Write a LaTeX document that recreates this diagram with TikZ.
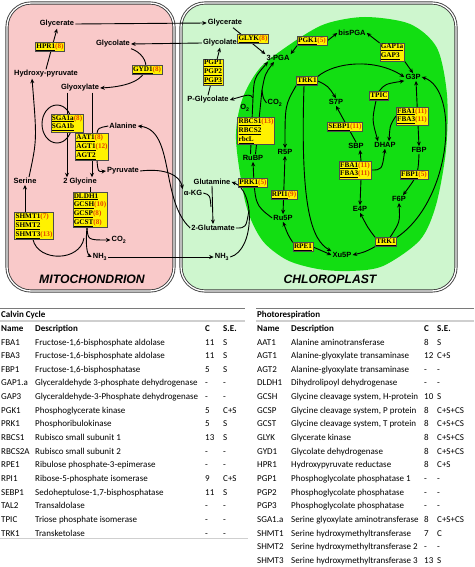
\documentclass[tikz,border=0pt]{standalone}
\usepackage{fontspec}
\setmainfont{Liberation Serif}
\setsansfont{Liberation Sans}
\newfontfamily\tabfont{Carlito}
\usetikzlibrary{arrows.meta,calc}
\pgfdeclarelayer{bg}
\pgfdeclarelayer{edges}
\pgfsetlayers{bg,edges,main}
\definecolor{mitopink}{RGB}{249,201,201}
\definecolor{plastid}{RGB}{206,246,206}
\definecolor{stroma}{RGB}{18,222,18}
\definecolor{nred}{RGB}{228,64,0}
\definecolor{rulegray}{RGB}{175,175,175}
\newcommand{\en}[1]{\underline{#1}}
\newcommand{\nr}[1]{\textcolor{nred}{(#1)}}
\tikzset{
  met/.style={font=\sffamily\bfseries\fontsize{7.5}{8}\selectfont, inner sep=1pt},
  enz/.style={draw=black!70, fill=yellow, font=\rmfamily\bfseries\fontsize{7.2}{8.8}\selectfont, inner sep=1pt, align=left},
  link/.style={line width=0.9pt},
  arr/.style={link, -{Stealth[length=4.5pt,width=4pt]}},
  arrs/.style={link, {Stealth[length=4.5pt,width=4pt]}-{Stealth[length=4.5pt,width=4pt]}},
  comp/.style={draw=black!75, line width=0.9pt, double=white, double distance=1.3pt, rounded corners=24pt},
  place/.style={font=\sffamily\bfseries\itshape\fontsize{12.2}{14}\selectfont},
  tab/.style={font=\tabfont\fontsize{9}{10}\selectfont, inner sep=0pt, anchor=base west},
  tabh/.style={tab, font=\tabfont\bfseries\fontsize{9}{10}\selectfont},
}
\begin{document}
\begin{tikzpicture}[x=1pt,y=-1pt]
\useasboundingbox (0,0) rectangle (474,567);
% compartments
\begin{pgfonlayer}{bg}
\draw[comp, fill=mitopink] (7,3) rectangle (174,291);
\draw[comp, fill=plastid] (181,3) rectangle (456,291);
\fill[stroma] plot[smooth cycle] coordinates {(236,140) (242,100) (260,68) (292,43) (325,24) (365,17) (410,24) (437,48) (447,95) (446,150) (436,205) (420,240) (383,266) (350,271) (318,269) (287,260) (262,240) (246,205)};
\end{pgfonlayer}
% mitochondrion
\node[met] (glyM) at (57,24) {Glycerate};
\node[enz] (hpr) at (50,47) {\en{HPR1}\nr{8}};
\node[met] (hpyr) at (46,74) {Hydroxy-pyruvate};
\node[met] (glcM) at (113,44) {Glycolate};
\node[enz] (gyd) at (147,70) {\en{GYD1}\nr{8}};
\node[met] (glx) at (80,88) {Glyoxylate};
\node[enz] (sga) at (67,123) {\en{SGA1a}\nr{8}\\\en{SGA1b}};
\node[enz] (aat) at (92,147) {\en{AAT1}\nr{8}\\\en{AGT1}\nr{12}\\\en{AGT2}};
\node[met] (ala) at (123,126) {Alanine};
\node[met] (pyr) at (123,171) {Pyruvate};
\node[met] (ser) at (25,181) {Serine};
\node[met] (gly2) at (80,182) {2 Glycine};
\node[enz] (gcs) at (90,210) {\en{DLDH1}\\\en{GCSH}\nr{10}\\\en{GCSP}\nr{8}\\\en{GCST}\nr{8}};
\node[enz] (shmt) at (34,226) {\en{SHMT1}\nr{7}\\\en{SHMT2}\\\en{SHMT3}\nr{13}};
\node[met] (co2M) at (119,240) {CO\textsubscript{2}};
\node[met] (nh3M) at (100,257) {NH\textsubscript{3}};
\node[place] (mitolab) at (92,279) {MITOCHONDRION};
% chloroplast
\node[met] (glyC) at (225,23) {Glycerate};
\node[enz] (glyk) at (253,39) {\en{GLYK}\nr{8}};
\node[met] (glcC) at (220,43) {Glycolate};
\node[enz] (pgp) at (213,72) {\en{PGP1}\\\en{PGP2}\\\en{PGP3}};
\node[met] (pglc) at (208,100) {P-Glycolate};
\node[met] (pga) at (278,58) {3-PGA};
\node[enz] (pgk) at (312,41) {\en{PGK1}\nr{5}};
\node[met] (bpga) at (352,33) {bisPGA};
\node[enz] (gap) at (392,52) {\en{GAP1a}\\\en{GAP3}};
\node[met] (g3p) at (413,77) {G3P};
\node[enz] (trkA) at (307,81) {\en{TRK1}};
\node[met] (s7p) at (336,102) {S7P};
\node[enz] (tpic) at (379,96) {\en{TPIC}};
\node[enz] (fbaA) at (412,116) {\en{FBA1}\nr{11}\\\en{FBA3}\nr{11}};
\node[enz] (sebp) at (345,127) {\en{SEBP1}\nr{11}};
\node[met] (sbp) at (356,146) {SBP};
\node[met] (dhap) at (385,145) {DHAP};
\node[met] (fbp) at (419,150) {FBP};
\node[enz] (fbaB) at (355,170) {\en{FBA1}\nr{11}\\\en{FBA3}\nr{11}};
\node[enz] (fbpase) at (414,175) {\en{FBP1}\nr{5}};
\node[met] (e4p) at (360,209) {E4P};
\node[met] (f6p) at (399,199) {F6P};
\node[enz] (trkB) at (386,242) {\en{TRK1}};
\node[met] (xu5p) at (342,255) {Xu5P};
\node[enz] (rpe) at (303,247) {\en{RPE1}};
\node[met] (ru5p) at (283,218) {Ru5P};
\node[enz] (rpi) at (284,195) {\en{RPI1}\nr{9}};
\node[met] (r5p) at (285,152) {R5P};
\node[enz] (prk) at (253,183) {\en{PRK1}\nr{5}};
\node[met] (rubp) at (253,158) {RuBP};
\node[enz] (rbcs) at (256,131) {\en{RBCS1}\nr{13}\\\en{RBCS2}\\\en{rbcL}};
\node[met] (o2) at (245,108) {O\textsubscript{2}};
\node[met] (co2C) at (275,103) {CO\textsubscript{2}};
\node[met] (gln) at (212,182) {Glutamine};
\node[met] (akg) at (193,193) {α-KG};
\node[met] (glu) at (213,228) {2-Glutamate};
\node[met] (nh3C) at (222,257) {NH\textsubscript{3}};
\node[place] (chlorolab) at (330,279) {CHLOROPLAST};
\coordinate (oxy) at (253,98);
\coordinate (carb) at (262,90);
\coordinate (j1) at (211,207);
\coordinate (j2) at (249,210);
\coordinate (gcsj) at (84,238);
% connectors
\begin{pgfonlayer}{edges}
\draw[arr] (glyM.east) -- (glyC.west);
\draw[arr] (glcC.west) -- (glcM.east);
\draw[arr] (hpyr.north) -- (glyM.south);
\draw[arr] (glcM.south east) .. controls (150,55) and (160,85) .. (glx.east);
\draw[arr] (glx.south -| sga) -- (gly2.north -| sga);
\draw[arr] (glx.south -| aat) -- (gly2.north -| aat);
\draw[link] (57,124) ellipse [x radius=15, y radius=19];
\draw[arr] ([xshift=4pt]ser.north) .. controls (37,140) .. ([xshift=-14pt]hpyr.south);
\draw[arr] (shmt.north -| ser.south) -- (ser.south);
\draw[link] (gcs.north) -- (gcs.north |- gly2.south);
\draw[arr] ([xshift=-3pt]gcs.south) .. controls (88,240) .. (co2M.west);
\draw[arr] ([xshift=-3pt]gcs.south) .. controls (85,248) and (88,255) .. (nh3M.west);
\draw[link] ([xshift=-1pt]shmt.south) .. controls (38,262) and (80,262) .. (gcsj);
\draw[arr] ([xshift=5pt]aat.south) .. controls (98,172) .. (pyr.west);
\draw[link] ([xshift=5pt]aat.north) .. controls (98,128) .. (ala.west);
\draw[arr] (pyr.east) .. controls (165,168) and (180,175) .. (akg.north west);
\draw[arr] (glu.west) .. controls (160,200) and (175,130) .. (ala.east);
\draw[arr] (nh3M.east) -- (nh3C.west);
\draw[arr] ([xshift=8pt]glyC.south) -- (pga.north west);
\draw[arr] (pgk.south west) -- (pga.north east);
\draw[arr] (pgk.east) -- (bpga.west);
\draw[arr] (gap.north west) -- (bpga.east);
\draw[arr] (gap.south east) -- (g3p.north);
\draw[arr] (trkA.north east) .. controls (335,62) and (375,58) .. (g3p.west);
\draw[arr] (trkA.east) .. controls (328,86) .. (s7p.north);
\draw[arr] (trkA.south west) .. controls (285,105) .. (r5p.north);
\draw[arr] ([xshift=-3pt]trkA.south) .. controls (300,210) and (312,240) .. (xu5p.north west);
\draw[arr] (tpic.north) .. controls (385,84) .. (g3p.south west);
\draw[arr] ([xshift=-3pt]tpic.south) .. controls (372,120) .. ([xshift=-7pt]dhap.north);
\draw[arr] (fbaA.west) .. controls (390,125) .. ([xshift=4pt]dhap.north);
\draw[arrs] ([xshift=3pt]g3p.south) -- (fbp.north);
\draw[arr] (trkB.north east) .. controls (452,200) and (460,90) .. (g3p.east);
\draw[arr] (sbp.north) -- (s7p.south);
\draw[arr] ([xshift=6pt]fbaB.north) -- ([xshift=4pt]sbp.south);
\draw[arr] (fbaB.east) .. controls (382,170) .. (dhap.south);
\draw[arr] ([xshift=6pt]fbaB.south) -- (e4p.north);
\draw[arr] (fbp.south) .. controls (418,175) .. ([xshift=4pt]f6p.north);
\draw[arr] (trkB.north west) .. controls (368,228) .. (e4p.south);
\draw[arr] ([xshift=4pt]trkB.north) .. controls (400,222) .. (f6p.south);
\draw[arr] (trkB.south west) .. controls (365,252) .. (xu5p.east);
\draw[arr] (rpe.north west) .. controls (288,235) .. (ru5p.south);
\draw[arr] (rpe.east) -- (xu5p.west);
\draw[arrs] (r5p.south) -- (ru5p.north);
\draw[arr] (ru5p.west) .. controls (255,205) .. (rubp.south);
\draw[arr] ([xshift=-2.5pt]rubp.north) -- (oxy) .. controls (254,78) .. ([xshift=-10pt]pga.south);
\draw[arr] ([xshift=2.5pt]rubp.north) -- (carb) .. controls (265,74) .. ([xshift=-4pt]pga.south);
\draw[arr] (oxy) .. controls (250,94) .. (pglc.east);
\draw[link] (carb) .. controls (263,98) .. (co2C.west);
\draw[arr] (pglc.north) -- (glcC.south);
\draw[arr] (gln.south) -- (glu.north);
\draw[link] (akg.east) .. controls (210,195) .. (j1);
\draw[arr] (nh3C.east) .. controls (255,250) and (255,190) .. (gln.east);
\draw[link] (glu.east) .. controls (246,228) .. (j2);
\end{pgfonlayer}
% tables
\draw[rulegray!70!black, line width=0.6pt] (0,308) -- (245,308) (256,308) -- (474,308);
\draw[rulegray!60, line width=1.2pt] (0,321) -- (245,321) (256,321) -- (474,321);
\draw[rulegray!60, line width=1pt] (0,538) -- (248,538);
\node[tabh] (cch) at (1,317) {Calvin Cycle};
\node[tabh] (prh) at (257,317) {Photorespiration};
\node[tabh] (cn) at (1,331) {Name};
\node[tabh] (cd) at (35,331) {Description};
\node[tabh] (cc) at (205,331) {C};
\node[tabh] (cs) at (223,331) {S.E.};
\node[tabh] (pn) at (257,331) {Name};
\node[tabh] (pd) at (291,331) {Description};
\node[tabh] (pc) at (424,331) {C};
\node[tabh] (ps) at (437,331) {S.E.};
\foreach \n/\d/\c/\s [count=\i from 0] in {FBA1/{Fructose-1,6-bisphosphate aldolase}/11/S, FBA3/{Fructose-1,6-bisphosphate aldolase}/11/S, FBP1/{Fructose-1,6-bisphosphatase}/5/S, GAP1.a/Glyceraldehyde 3-phosphate dehydrogenase/-/-, GAP3/Glyceraldehyde-3-Phosphate dehydrogenase/-/-, PGK1/Phosphoglycerate kinase/5/C+S, PRK1/Phosphoribulokinase/5/S, RBCS1/Rubisco small subunit 1/13/S, RBCS2A/Rubisco small subunit 2/-/-, RPE1/Ribulose phosphate-3-epimerase/-/-, RPI1/Ribose-5-phosphate isomerase/9/C+S, SEBP1/{Sedoheptulose-1,7-bisphosphatase}/11/S, TAL2/Transaldolase/-/-, TPIC/Triose phosphate isomerase/-/-, TRK1/Transketolase/-/-}
{
  \node[tab] (cn\i) at (1,{345+13.65*\i}) {\n};
  \node[tab] (cd\i) at (35,{345+13.65*\i}) {\d};
  \node[tab] (cc\i) at (205,{345+13.65*\i}) {\c};
  \node[tab] (cs\i) at (223,{345+13.65*\i}) {\s};
}
\foreach \n/\d/\c/\s [count=\i from 0] in {AAT1/Alanine aminotransferase/8/S, AGT1/Alanine-glyoxylate transaminase/12/C+S, AGT2/Alanine-glyoxylate transaminase/-/-, DLDH1/Dihydrolipoyl dehydrogenase/-/-, GCSH/{Glycine cleavage system, H-protein}/10/S, GCSP/{Glycine cleavage system, P protein}/8/C+S+CS, GCST/{Glycine cleavage system, T protein}/8/C+S+CS, GLYK/Glycerate kinase/8/C+S+CS, GYD1/Glycolate dehydrogenase/8/C+S+CS, HPR1/Hydroxypyruvate reductase/8/C+S, PGP1/Phosphoglycolate phosphatase 1/-/-, PGP2/Phosphoglycolate phosphatase/-/-, PGP3/Phosphoglycolate phosphatase/-/-, SGA1.a/Serine glyoxylate aminotransferase/8/C+S+CS, SHMT1/Serine hydroxymethyltransferase/7/C, SHMT2/Serine hydroxymethyltransferase 2/-/-, SHMT3/Serine hydroxymethyltransferase 3/13/S}
{
  \node[tab] (pn\i) at (257,{345+13.65*\i}) {\n};
  \node[tab] (pd\i) at (291,{345+13.65*\i}) {\d};
  \node[tab] (pc\i) at (424,{345+13.65*\i}) {\c};
  \node[tab] (ps\i) at (437,{345+13.65*\i}) {\s};
}
\end{tikzpicture}
\end{document}
